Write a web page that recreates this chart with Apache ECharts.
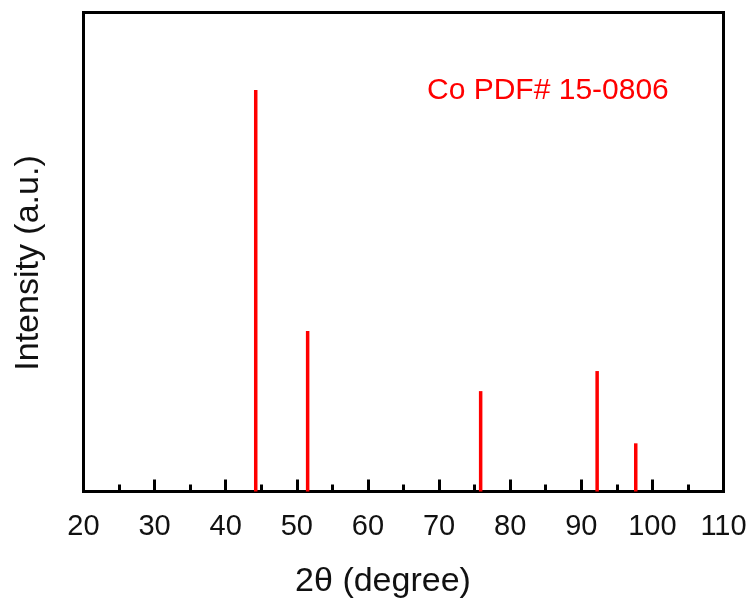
<!DOCTYPE html>
<html>
<head>
<meta charset="utf-8">
<script src="https://cdn.jsdelivr.net/npm/echarts@6/dist/echarts.min.js"></script>
<style>
html,body{margin:0;padding:0;background:#fff;}
#chart{width:756px;height:606px;}
</style>
</head>
<body>
<div id="chart"></div>
<script>
// Data (Co PDF# 15-0806 reference lines)
var peakPositions = [44.22, 51.52, 75.85, 92.23, 97.66];
var peakIntensities = [100, 40, 25, 30, 12];
var xTickLabels = ['20','30','40','50','60','70','80','90','100','110'];
var xAxisTitle = '2\u03b8 (degree)';
var yAxisTitle = 'Intensity (a.u.)';
var annotation = 'Co PDF# 15-0806';

var FONT = "'Liberation Sans', Arial, sans-serif";
var chart = echarts.init(document.getElementById('chart'), null, {renderer: 'canvas'});

var barData = peakPositions.map(function (x, i) { return [x, peakIntensities[i]]; });

chart.setOption({
  animation: false,
  backgroundColor: '#ffffff',
  grid: {
    left: 83.5, right: 32.5, top: 12.5, bottom: 114.5,
    show: true, borderColor: '#000', borderWidth: 3, backgroundColor: 'transparent'
  },
  xAxis: {
    type: 'value',
    min: 20, max: 110, interval: 10,
    axisLine: {show: false},
    axisTick: {show: true, inside: true, length: 12, lineStyle: {color: '#000', width: 3}},
    minorTick: {show: true, splitNumber: 2, length: 7, lineStyle: {color: '#000', width: 3}},
    splitLine: {show: false},
    axisLabel: {
      margin: 21, color: '#111', fontSize: 29, fontFamily: FONT,
      formatter: function (v) {
        var i = Math.round((v - 20) / 10);
        return xTickLabels[i] !== undefined ? xTickLabels[i] : '';
      }
    }
  },
  yAxis: {
    type: 'value', min: 0, max: 119.3,
    show: false
  },
  series: [{
    type: 'bar',
    data: barData,
    barWidth: 3.5,
    itemStyle: {color: '#ff0000'},
    z: 3
  }],
  graphic: [
    {
      type: 'text',
      x: 383, y: 582,
      style: {text: xAxisTitle, fill: '#111', font: '34px ' + FONT, textAlign: 'center', textVerticalAlign: 'middle'}
    },
    {
      type: 'text',
      x: 29, y: 263, rotation: Math.PI / 2,
      style: {text: yAxisTitle, fill: '#111', font: '34px ' + FONT, textAlign: 'center', textVerticalAlign: 'middle'}
    },
    {
      type: 'text',
      x: 427, y: 91,
      style: {text: annotation, fill: '#ff0000', font: '30px ' + FONT, textAlign: 'left', textVerticalAlign: 'middle'}
    }
  ]
});
</script>
</body>
</html>
